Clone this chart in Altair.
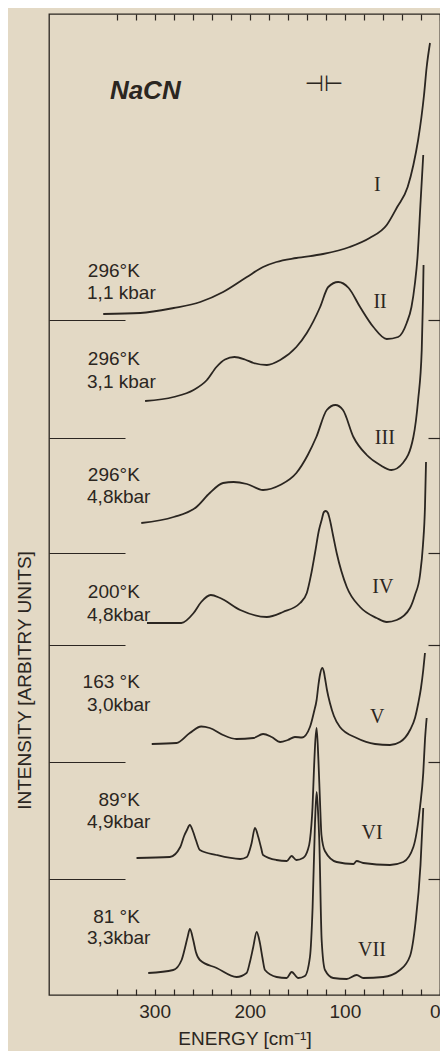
import altair as alt
import pandas as pd

# ---- spectra (energy in cm^-1, intensity in arbitrary units) ----
energy_I = [354, 315, 280, 252, 228, 203, 186, 172, 151, 123, 95, 74, 56, 45, 34, 28, 23, 19.5, 16.8, 14, 10.5]
intensity_I = [681, 682, 687, 693, 703, 718, 728, 733, 737, 741, 748, 757, 770, 788, 808, 830, 855, 878, 900, 928, 952]

energy_II = [310, 280, 259, 245, 235, 226, 216, 205, 196, 182, 168, 151, 140, 126, 117.5, 107, 96, 84, 70, 56, 44, 35, 30, 26.3, 23.7, 20.3, 17.6]
intensity_II = [594, 598, 605, 615, 628, 635.5, 638, 635.5, 632, 630, 635, 648, 662, 688, 708, 713, 707, 688, 668, 656, 658, 672, 688, 712, 737, 795, 840]

energy_III = [314, 280, 256, 242, 228, 217, 203, 186, 168, 151, 139, 130, 119, 110, 102, 91, 77, 63, 51, 39, 28, 23, 19.2, 17.9, 17.3]
intensity_III = [472, 478, 488, 502, 512, 513, 511, 505, 510, 522, 540, 558, 585, 590, 585, 558, 540, 530, 525, 532, 558, 595, 645, 695, 730]

energy_IV = [308, 272, 259, 251, 241, 231, 210, 182, 165, 147, 140, 135.6, 131.4, 127.2, 124.4, 122, 119.9, 117.8, 115.7, 112.5, 108.6, 98, 84, 66.6, 56, 45.5, 31.5, 26.3, 21, 17.9, 15.8, 14.7]
intensity_IV = [372, 372, 382, 393, 400, 397, 385, 378, 383, 392, 402, 420, 442, 465, 475, 483, 484, 482, 475, 460, 442, 408, 388, 377, 373, 375, 387, 400, 420, 450, 488, 533]

energy_V = [303, 277, 263, 251, 242, 228, 214, 196, 186, 177, 168, 160, 152.5, 145, 136.7, 132.5, 129.7, 127.8, 126.2, 123.8, 122, 120.9, 118.8, 115.7, 111.5, 105.2, 87.6, 68.3, 52.6, 42.1, 31.5, 26.3, 22.8, 20, 17.6, 15.8]
intensity_V = [251, 252, 262, 268.5, 267, 260, 256, 257, 261, 258, 253, 255, 258, 257.5, 268, 283, 295, 310, 320, 327, 323, 317, 305, 292, 279, 268, 257, 251, 250, 253, 265, 277, 292, 307, 325, 342]

energy_VI = [319, 284, 273, 269, 266, 263, 259.4, 256.6, 252.4, 235, 210, 203, 200, 198, 194.5, 191, 188, 186, 172, 161, 156, 151, 144, 139, 136.7, 134, 132.5, 131, 129.7, 127.8, 126.2, 124.6, 121, 108.6, 91, 87.6, 80.7, 52.6, 38.6, 28, 21, 17.6, 15.8, 14]
intensity_VI = [137, 138, 148, 159, 165, 170, 163, 155, 145, 140, 136, 138, 145, 152, 167, 158, 147, 140, 135, 134, 139, 135, 137, 145, 155, 188, 225, 255, 267, 235, 195, 160, 144, 133, 131, 134, 132, 130, 133, 148, 188, 222, 255, 277]

energy_VII = [306.7, 280.4, 271.6, 268.1, 265.3, 262.9, 259.4, 256.6, 252.4, 234.8, 213.8, 203.3, 199.8, 196.3, 192.7, 189.3, 186.6, 184, 171.7, 161.2, 155.9, 149, 142, 136.7, 133.9, 131.4, 129.7, 128.3, 126.9, 124.4, 120.9, 112.2, 98.1, 87.6, 80.7, 59.6, 42.1, 31.5, 25.8, 20.5, 17.6]
intensity_VII = [22, 25, 35, 47, 58, 66, 55, 43, 35, 27, 18, 22, 33, 48, 63, 52, 37, 25, 18, 17, 23, 17, 19, 38, 88, 172, 203, 185, 155, 55, 25, 17, 16, 20, 17, 18, 25, 39, 72, 130, 187]

spectrum_names = ["I", "II", "III", "IV", "V", "VI", "VII"]
temperatures = ["296°K", "296°K", "296°K", "200°K", "163 °K", "89°K", "81 °K"]
pressures = ["1,1 kbar", "3,1 kbar", "4,8kbar", "4,8kbar", "3,0kbar", "4,9kbar", "3,3kbar"]

x_tick_values = list(range(0, 341, 20))
separator_values = [675, 557, 442, 350, 233, 116]

# ---- annotation anchors (data coordinates) ----
temp_y = [724, 636, 520, 403, 313, 195, 78]
press_y = [702, 613, 498, 380, 290, 173, 57]
numeral_x = [66, 63, 58, 60, 66, 71.5, 71.5]
numeral_y = [810, 693, 557, 408, 278, 162, 45]

series = [energy_I, energy_II, energy_III, energy_IV, energy_V, energy_VI, energy_VII]
values = [intensity_I, intensity_II, intensity_III, intensity_IV, intensity_V, intensity_VI, intensity_VII]

rows = []
for name, xs, ys in zip(spectrum_names, series, values):
    for k, (x, y) in enumerate(zip(xs, ys)):
        rows.append({"spectrum": name, "energy": x, "intensity": y, "order": k})
df = pd.DataFrame(rows)

labels_df = pd.DataFrame({
    "spectrum": spectrum_names,
    "temp": temperatures,
    "press": pressures,
    "ty": temp_y,
    "py": press_y,
    "nx": numeral_x,
    "ny": numeral_y,
})

ink = "#2b2621"
paper = "#e3d9c5"
sans = "Liberation Sans"

XS = alt.Scale(domain=[411, 0], nice=False, zero=False)
YS = alt.Scale(domain=[0, 981], nice=False, zero=False)

curves = alt.Chart(df).mark_line(color=ink, strokeWidth=1.8, interpolate="monotone").encode(
    x=alt.X("energy:Q", scale=XS, axis=alt.Axis(
        orient="bottom", values=x_tick_values, grid=False, domain=False,
        labelExpr="datum.value % 100 === 0 ? datum.label : ''",
        labelOverlap=False, labelFlush=True, labelFont=sans, labelFontSize=19,
        labelColor=ink, labelPadding=7, tickColor=ink, tickSize=6, tickWidth=1.2, offset=-6,
        title="ENERGY  [cm⁻¹]", titleFont=sans, titleFontSize=19, titleFontWeight="normal",
        titleColor=ink, titlePadding=8)),
    y=alt.Y("intensity:Q", scale=YS, axis=alt.Axis(
        orient="left", values=separator_values, grid=False, domain=False, labels=False,
        tickColor=ink, tickSize=76, tickWidth=1.2, offset=-76,
        title="INTENSITY  [ARBITRY UNITS]", titleFont=sans, titleFontSize=19,
        titleFontWeight="normal", titleColor=ink, titleAngle=270,
        titleX=-101, titleY=666, titleAlign="center", titleBaseline="middle")),
    detail="spectrum:N",
    order="order:Q",
)

numerals = alt.Chart(labels_df).mark_text(
    font="Liberation Serif", fontSize=20, color=ink, align="center", baseline="middle"
).encode(
    x=alt.X("nx:Q", scale=XS, axis=alt.Axis(
        orient="top", values=x_tick_values, grid=False, domain=False, labels=False,
        tickColor=ink, tickSize=6, tickWidth=1.2, offset=-6, title=None)),
    y=alt.Y("ny:Q", scale=YS, axis=alt.Axis(
        orient="right", values=separator_values, grid=False, domain=False, labels=False,
        tickColor=ink, tickSize=12, tickWidth=1.2, offset=-12, title=None)),
    text="spectrum:N",
)

temps = alt.Chart(labels_df).mark_text(
    font=sans, fontSize=19, color=ink, align="right", baseline="middle"
).encode(
    x=alt.X("tx:Q", scale=XS, axis=None),
    y=alt.Y("ty:Q", scale=YS, axis=None),
    text="temp:N",
).transform_calculate(tx="315.5")

press = alt.Chart(labels_df).mark_text(
    font=sans, fontSize=19, color=ink, align="left", baseline="middle"
).encode(
    x=alt.X("px:Q", scale=XS, axis=None),
    y=alt.Y("py:Q", scale=YS, axis=None),
    text="press:N",
).transform_calculate(px="371")

title_df = pd.DataFrame({"t": ["NaCN"], "x": [347], "y": [904]})
nacn = alt.Chart(title_df).mark_text(
    font=sans, fontSize=26, fontWeight="bold", fontStyle="italic", color=ink,
    align="left", baseline="middle"
).encode(
    x=alt.X("x:Q", scale=XS, axis=None),
    y=alt.Y("y:Q", scale=YS, axis=None),
    text="t:N",
)

slit_df = pd.DataFrame({"t": ["⊣⊢"], "x": [122], "y": [911]})
slit = alt.Chart(slit_df).mark_text(
    font="DejaVu Sans", fontSize=22, color=ink, align="center", baseline="middle"
).encode(
    x=alt.X("x:Q", scale=XS, axis=None),
    y=alt.Y("y:Q", scale=YS, axis=None),
    text="t:N",
)

chart = alt.layer(curves, numerals, temps, press, nacn, slit).resolve_axis(
    x="independent", y="independent"
).properties(
    width=391, height=981,
    padding={"left": 41, "top": 6, "right": 0, "bottom": 56},
    autosize="none",
    background=paper,
).configure_view(stroke=ink, strokeWidth=1.3)

chart.save("out.html", embed_options={"renderer": "svg", "actions": False})
